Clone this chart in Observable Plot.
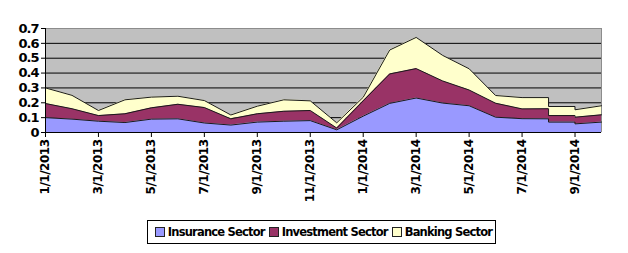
<!DOCTYPE html>
<html><head><meta charset="utf-8">
<script src="https://cdn.jsdelivr.net/npm/d3@7"></script>
<script src="https://cdn.jsdelivr.net/npm/@observablehq/plot@0.6"></script>
<style>
body{margin:0;background:#fff;font-family:"DejaVu Sans",sans-serif;}
#wrap{position:relative;width:628px;height:253px;overflow:hidden;}
#wrap svg{display:block;}
#wrap svg text{font-family:"DejaVu Sans",sans-serif;font-weight:bold;fill:#000;}
g[aria-label="y-axis tick label"]{font-size:13px;letter-spacing:-1px;}
g[aria-label="x-axis tick label"]{font-size:12px;letter-spacing:-0.5px;}
.legend{position:absolute;left:147px;top:220px;width:347px;height:22px;border:1px solid #000;display:flex;align-items:center;justify-content:center;font-weight:bold;font-size:11.5px;letter-spacing:-0.8px;color:#000;white-space:nowrap;}
.sw{display:inline-block;width:8px;height:8px;border:1px solid #222;margin:0 3px 0 4px;}
</style>
</head><body>
<div id="wrap"></div>
<script>
// ---- data ----
const dates = ["1/1/2013","2/1/2013","3/1/2013","4/1/2013","5/1/2013","6/1/2013","7/1/2013","8/1/2013","9/1/2013","10/1/2013","11/1/2013","12/1/2013",
  "1/1/2014","2/1/2014","3/1/2014","4/1/2014","5/1/2014","6/1/2014","7/1/2014","8/1/2014","8/1/2014","9/1/2014","9/1/2014","10/1/2014"];
const insurance  = [0.100,0.090,0.076,0.067,0.090,0.092,0.064,0.050,0.070,0.076,0.080,0.018,
  0.110,0.196,0.232,0.198,0.180,0.103,0.093,0.092,0.070,0.070,0.058,0.070];
const investment = [0.095,0.070,0.038,0.059,0.076,0.098,0.104,0.042,0.056,0.067,0.068,0.012,
  0.103,0.198,0.198,0.149,0.106,0.094,0.066,0.068,0.044,0.044,0.045,0.049];
const banking    = [0.105,0.090,0.034,0.094,0.072,0.054,0.047,0.026,0.051,0.077,0.065,0.035,
  0.024,0.161,0.210,0.172,0.143,0.052,0.076,0.075,0.061,0.061,0.050,0.061];
const seriesNames = ["Insurance Sector","Investment Sector","Banking Sector"];
const seriesColors = ["#9999FF","#993366","#FFFFCC"];
const yTicks = [0,0.1,0.2,0.3,0.4,0.5,0.6,0.7];
const xTickLabels = ["1/1/2013","3/1/2013","5/1/2013","7/1/2013","9/1/2013","11/1/2013","1/1/2014","3/1/2014","5/1/2014","7/1/2014","9/1/2014"];
const xDomainLabels = ["1/1/2013","10/1/2014"];

// ---- helpers ----
const mIdx = s => { const [m,d,y] = s.split("/").map(Number); return (y-2013)*12 + (m-1); };
const values = [insurance, investment, banking];
const base = dates.map(() => 0);
const rows = [];
values.forEach((vals, k) => {
  vals.forEach((v, i) => {
    const y1 = base[i], y2 = base[i] + v;
    rows.push({x: mIdx(dates[i]), y1, y2, s: seriesNames[k]});
    base[i] = y2;
  });
});
const xTicks = xTickLabels.map(mIdx);
const labelOf = new Map(xTickLabels.map(l => [mIdx(l), l]));
const xDom = xDomainLabels.map(mIdx);
const yMax = yTicks[yTicks.length-1];

const chart = Plot.plot({
  width: 628, height: 214,
  marginLeft: 45, marginRight: 27, marginTop: 28, marginBottom: 82,
  x: {type: "linear", domain: xDom},
  y: {domain: [0, yMax]},
  color: {domain: seriesNames, range: seriesColors},
  marks: [
    Plot.frame({fill: "#C0C0C0", stroke: "none"}),
    Plot.ruleY(yTicks.slice(1, -1), {stroke: "#000", strokeWidth: 1}),
    Plot.ruleY([yMax], {stroke: "#8c8c8c"}),
    Plot.ruleX([xDom[1]], {stroke: "#8c8c8c"}),
    Plot.areaY(rows, {x: "x", y1: "y1", y2: "y2", z: "s", fill: "s"}),
    Plot.lineY(rows, {x: "x", y: "y2", z: "s", stroke: "#1a1a1a", strokeWidth: 1}),
    Plot.ruleY([0], {stroke: "#000"}),
    Plot.ruleX([xDom[0]], {stroke: "#000"}),
    Plot.axisY({ticks: yTicks, tickFormat: d => d === 0 ? "0" : d3.format(".1f")(d), tickSize: 4, tickPadding: 3, label: null}),
    Plot.axisX({ticks: xTicks, tickFormat: d => labelOf.get(d), tickRotate: -90, tickSize: 5, tickPadding: 2, label: null})
  ]
});
const wrap = document.getElementById("wrap");
wrap.appendChild(chart);
const lg = document.createElement("div");
lg.className = "legend";
seriesNames.forEach((n, k) => {
  const sw = document.createElement("span"); sw.className = "sw"; sw.style.background = seriesColors[k];
  const t = document.createElement("span"); t.textContent = n;
  lg.appendChild(sw); lg.appendChild(t);
});
wrap.appendChild(lg);
</script>
</body></html>
